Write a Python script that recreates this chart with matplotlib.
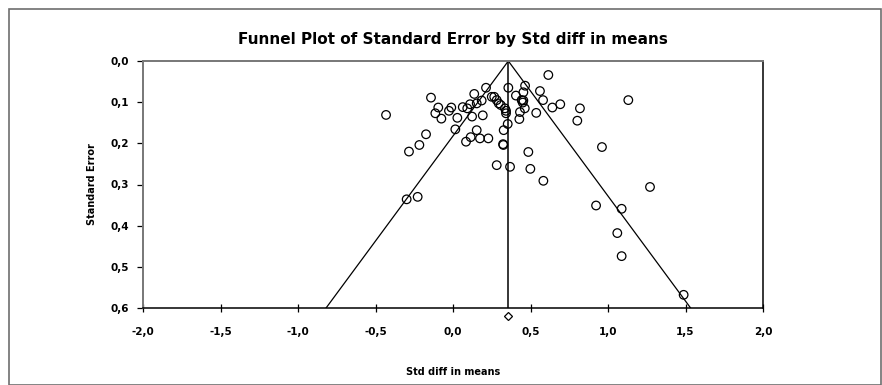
import matplotlib
matplotlib.use("Agg")
import matplotlib.pyplot as plt
from matplotlib.patches import Rectangle

# studies: std diff in means and its standard error
std_diff = [
    -0.432, -0.142, -0.095, -0.114, -0.075, -0.026, -0.011, 0.028, 0.015, 0.063,
    0.092, 0.110, 0.137, 0.153, 0.123, 0.192, 0.213, 0.185, 0.250, 0.266,
    0.282, 0.295, 0.308, 0.335, 0.342, 0.342, 0.357, 0.327, 0.353, 0.406,
    0.465, 0.454, 0.443, 0.454, 0.450, 0.463, 0.432, 0.428, 0.561, 0.581,
    0.537, 0.641, 0.692, 0.615, 0.819, 0.802, -0.174, -0.217, -0.284, 0.153,
    0.114, 0.084, 0.174, 0.228, 0.323, 0.325, 0.486, 0.282, 0.368, 0.499,
    0.583, -0.299, -0.228, 0.961, 1.271, 0.923, 1.088, 1.060, 1.088, 1.488,
    1.131,
]
std_err = [
    0.131, 0.089, 0.113, 0.127, 0.140, 0.121, 0.113, 0.138, 0.166, 0.112,
    0.115, 0.105, 0.080, 0.103, 0.135, 0.132, 0.065, 0.096, 0.087, 0.087,
    0.095, 0.103, 0.107, 0.115, 0.121, 0.127, 0.065, 0.168, 0.153, 0.084,
    0.060, 0.076, 0.095, 0.096, 0.101, 0.115, 0.124, 0.141, 0.073, 0.095,
    0.126, 0.113, 0.105, 0.034, 0.115, 0.145, 0.178, 0.204, 0.220, 0.168,
    0.185, 0.196, 0.188, 0.188, 0.202, 0.204, 0.221, 0.253, 0.257, 0.262,
    0.291, 0.336, 0.330, 0.209, 0.306, 0.351, 0.359, 0.418, 0.474, 0.568,
    0.095,
]

mean_effect = 0.357
max_se = 0.6
diamond_se = 0.62

x_ticks = [-2.0, -1.5, -1.0, -0.5, 0.0, 0.5, 1.0, 1.5, 2.0]
y_ticks = [0.0, 0.1, 0.2, 0.3, 0.4, 0.5, 0.6]

plt.rcParams['font.family'] = ['DejaVu Sans']

fig = plt.figure(figsize=(8.82, 3.85), dpi=100)
fig.patches.append(Rectangle((9 / 882, 0.0), 872 / 882, 376 / 385,
                             transform=fig.transFigure, fill=False,
                             edgecolor='#6e6e6e', linewidth=1.2))

ax = fig.add_axes([143 / 882, 1 - 308 / 385, 620 / 882, 247 / 385])

ax.scatter(std_diff, std_err, s=38, facecolors='none', edgecolors='black',
           linewidths=0.9, zorder=3)

# funnel (95% limits) and mean line
ax.plot([mean_effect - 1.96 * max_se, mean_effect, mean_effect + 1.96 * max_se],
        [max_se, 0, max_se], color='black', lw=0.9)
ax.plot([mean_effect, mean_effect], [0, max_se], color='black', lw=1.1)
ax.plot([mean_effect], [diamond_se], marker='D', ms=4.5, mfc='white',
        mec='black', mew=0.9, clip_on=False)

ax.set_xlim(-2.0, 2.0)
ax.set_ylim(0.6, 0.0)
ax.set_xticks(x_ticks)
ax.set_yticks(y_ticks)
ax.set_xticklabels([f"{v:.1f}".replace('.', ',') for v in x_ticks],
                   fontsize=7.5, fontweight='bold')
ax.set_yticklabels([f"{v:.1f}".replace('.', ',') for v in y_ticks],
                   fontsize=7.5, fontweight='bold')
ax.tick_params(axis='x', direction='inout', length=6, width=0.9, pad=11)
ax.tick_params(axis='y', direction='out', length=4, width=0.9, pad=6)

for side in ['top', 'left']:
    ax.spines[side].set_color('#777777')
    ax.spines[side].set_linewidth(1.4)
for side in ['bottom', 'right']:
    ax.spines[side].set_color('black')
    ax.spines[side].set_linewidth(1.1)

ax.set_title("Funnel Plot of Standard Error by Std diff in means",
             fontsize=11, fontweight='bold', pad=12)
ax.set_xlabel("Std diff in means", fontsize=7, fontweight='bold', labelpad=21)
ax.set_ylabel("Standard Error", fontsize=7, fontweight='bold', labelpad=10)

fig.savefig("out.png", dpi=100)
